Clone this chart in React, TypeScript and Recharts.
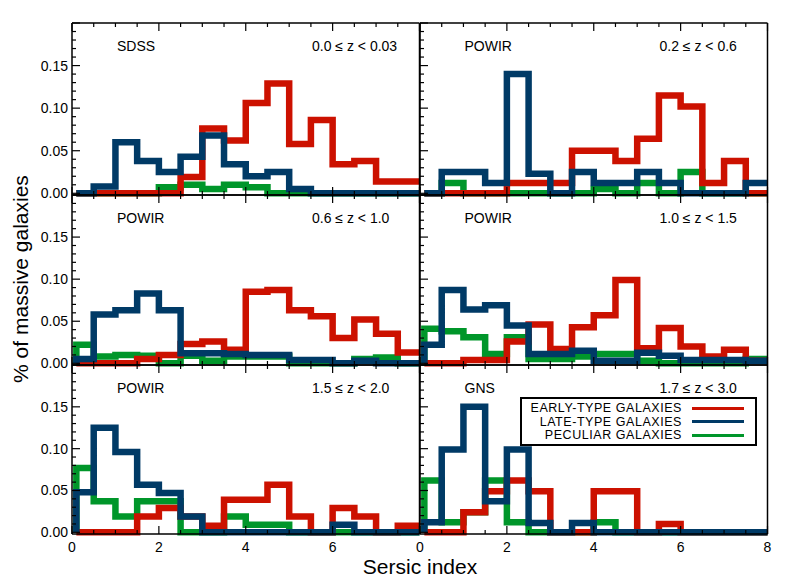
import React from 'react';
import { LineChart, Line, XAxis, YAxis } from 'recharts';

// histogram bins of the Sersic index (left edge of each bin), last edge at 8
const binStarts = [0.1, 0.5, 1, 1.5, 2, 2.5, 3, 3.5, 4, 4.5, 5, 5.5, 6, 6.5, 7, 7.5];
const binEnd = 8;

// SDSS 0.0 <= z < 0.03
const sdssEarly = [0, 0, 0, 0, 0, 0.019, 0.076, 0.062, 0.106, 0.129, 0.058, 0.086, 0.034, 0.038, 0.014, 0.014];
const sdssLate = [0, 0.008, 0.06, 0.038, 0.025, 0.043, 0.068, 0.034, 0.02, 0.025, 0.005, 0, 0, 0, 0, 0];
const sdssPec = [0, 0, 0, 0, 0.007, 0.01, 0.005, 0.01, 0.007, 0, 0, 0, 0, 0, 0, 0];

// POWIR 0.2 <= z < 0.6
const powir1Early = [0, 0, 0, 0, 0.012, 0.012, 0.012, 0.05, 0.05, 0.038, 0.064, 0.115, 0.102, 0.012, 0.038, 0];
const powir1Late = [0, 0.025, 0.025, 0.012, 0.14, 0.023, 0, 0.025, 0.012, 0.012, 0.025, 0.012, 0, 0, 0, 0.012];
const powir1Pec = [0, 0.012, 0, 0, 0, 0, 0, 0, 0.005, 0, 0.012, 0, 0.025, 0, 0, 0];

// POWIR 0.6 <= z < 1.0
const powir2Early = [0, 0, 0, 0.005, 0.01, 0.023, 0.026, 0.016, 0.085, 0.087, 0.063, 0.056, 0.03, 0.052, 0.035, 0.013];
const powir2Late = [0.005, 0.058, 0.063, 0.083, 0.063, 0.012, 0.012, 0.011, 0.01, 0.01, 0.004, 0.004, 0, 0.003, 0, 0];
const powir2Pec = [0.022, 0.008, 0.01, 0.009, 0, 0.009, 0.003, 0.008, 0.008, 0.008, 0, 0, 0, 0.005, 0.007, 0];

// POWIR 1.0 <= z < 1.5
const powir3Early = [0, 0, 0.004, 0.004, 0.026, 0.046, 0.017, 0.043, 0.057, 0.099, 0.018, 0.042, 0.02, 0.008, 0.016, 0.003];
const powir3Late = [0.022, 0.087, 0.064, 0.069, 0.045, 0.011, 0.011, 0.015, 0.003, 0.003, 0.0125, 0.009, 0.004, 0.004, 0.004, 0.003];
const powir3Pec = [0.041, 0.038, 0.031, 0.011, 0.031, 0.005, 0.005, 0.008, 0.011, 0.011, 0.003, 0, 0, 0, 0, 0.005];

// POWIR 1.5 <= z < 2.0
const powir4Early = [0, 0, 0, 0.019, 0.029, 0.019, 0.008, 0.039, 0.039, 0.057, 0.019, 0, 0.029, 0.019, 0, 0.008];
const powir4Late = [0.048, 0.125, 0.096, 0.057, 0.047, 0.019, 0, 0, 0, 0, 0, 0, 0.009, 0, 0, 0];
const powir4Pec = [0.077, 0.037, 0.019, 0.037, 0.037, 0, 0, 0.019, 0.009, 0.009, 0, 0, 0, 0, 0, 0];

// GNS 1.7 <= z < 3.0
const gnsEarly = [0, 0, 0.024, 0.049, 0.062, 0.049, 0, 0, 0.049, 0.049, 0, 0.01, 0, 0, 0, 0];
const gnsLate = [0.012, 0.099, 0.15, 0.037, 0.099, 0.011, 0, 0.011, 0, 0, 0, 0, 0, 0, 0, 0];
const gnsPec = [0.062, 0.012, 0.024, 0.062, 0.012, 0, 0, 0, 0.012, 0, 0, 0, 0, 0, 0, 0];

const xTicks = [0, 0.5, 1, 1.5, 2, 2.5, 3, 3.5, 4, 4.5, 5, 5.5, 6, 6.5, 7, 7.5, 8];
const yTicks = [0, 0.01, 0.02, 0.03, 0.04, 0.05, 0.06, 0.07, 0.08, 0.09, 0.1, 0.11, 0.12, 0.13, 0.14, 0.15, 0.16, 0.17, 0.18, 0.19, 0.2];

const RED = '#cc1100';
const BLUE = '#003a66';
const GREEN = '#00962a';
const FONT = '"Liberation Sans", Arial, Helvetica, sans-serif';

const panels = [
  { survey: 'SDSS', zRange: '0.0 ≤ z < 0.03', early: sdssEarly, late: sdssLate, pec: sdssPec },
  { survey: 'POWIR', zRange: '0.2 ≤ z < 0.6', early: powir1Early, late: powir1Late, pec: powir1Pec },
  { survey: 'POWIR', zRange: '0.6 ≤ z < 1.0', early: powir2Early, late: powir2Late, pec: powir2Pec },
  { survey: 'POWIR', zRange: '1.0 ≤ z < 1.5', early: powir3Early, late: powir3Late, pec: powir3Pec },
  { survey: 'POWIR', zRange: '1.5 ≤ z < 2.0', early: powir4Early, late: powir4Late, pec: powir4Pec },
  { survey: 'GNS', zRange: '1.7 ≤ z < 3.0', early: gnsEarly, late: gnsLate, pec: gnsPec },
];

const legendItems = [
  { label: 'EARLY-TYPE GALAXIES', color: RED },
  { label: 'LATE-TYPE GALAXIES', color: BLUE },
  { label: 'PECULIAR GALAXIES', color: GREEN },
];

function buildRows(early: number[], late: number[], pec: number[]) {
  const rows = [{ x: binStarts[0], early: 0, late: 0, pec: 0 }];
  binStarts.forEach((s, i) => rows.push({ x: s, early: early[i], late: late[i], pec: pec[i] }));
  const n = binStarts.length - 1;
  rows.push({ x: binEnd, early: early[n], late: late[n], pec: pec[n] });
  return rows;
}

// layout of the 2x3 grid
const colLefts = [72, 419.5];
const rowTops = [23, 195, 365];
const rowHeights = [172, 170, 169];
const PLOT_W = 347.5;
const ML = 60, MR = 12, MT = 12, MB = 30;

const isMajorX = (v: number) => Math.abs(v / 2 - Math.round(v / 2)) < 1e-6;
const isMajorY = (v: number) => Math.abs(v * 20 - Math.round(v * 20)) < 1e-6;

function makeXTick(side: 'top' | 'bottom', showLabels: boolean, showLast: boolean) {
  return (props: any) => {
    const { x, y, payload } = props;
    const v = payload.value;
    const major = isMajorX(v);
    const len = major ? 8 : 4;
    const dir = side === 'bottom' ? -1 : 1;
    const label = showLabels && major && (showLast || v < 7.9);
    return (
      <g>
        <line x1={x} y1={y} x2={x} y2={y + dir * len} stroke="#000" strokeWidth={1.2} />
        {label && (
          <text x={x} y={y + 18} textAnchor="middle" fontSize={14} fontFamily={FONT} fill="#000">
            {v}
          </text>
        )}
      </g>
    );
  };
}

function makeYTick(side: 'left' | 'right', showLabels: boolean) {
  return (props: any) => {
    const { x, y, payload } = props;
    const v = payload.value;
    const major = isMajorY(v);
    const len = major ? 8 : 4;
    const dir = side === 'left' ? 1 : -1;
    const label = showLabels && major && v < 0.19;
    return (
      <g>
        <line x1={x} y1={y} x2={x + dir * len} y2={y} stroke="#000" strokeWidth={1.2} />
        {label && (
          <text x={x - 4} y={y + 5} textAnchor="end" fontSize={14} fontFamily={FONT} fill="#000">
            {v.toFixed(2)}
          </text>
        )}
      </g>
    );
  };
}

function Panel({ idx }: { idx: number }) {
  const p = panels[idx];
  const col = idx % 2;
  const row = Math.floor(idx / 2);
  const left = colLefts[col];
  const top = rowTops[row];
  const h = rowHeights[row];
  const rows = buildRows(p.early, p.late, p.pec);
  const axisLine = { stroke: '#000', strokeWidth: 1.5 };
  const yDomain = [-0.002, 0.2];
  const lineProps = {
    xAxisId: 'b',
    yAxisId: 'l',
    type: 'stepAfter' as const,
    strokeWidth: 6.5,
    dot: false,
    activeDot: false,
    isAnimationActive: false,
    strokeLinejoin: 'miter' as const,
  };
  // each axis takes 1px (an axis of size 0 is not drawn), so the chart grows by 2px each way
  return (
    <>
      <div style={{ position: 'absolute', left: left - ML - 1, top: top - MT - 1 }}>
        <LineChart
          width={PLOT_W + ML + MR + 2}
          height={h + MT + MB + 2}
          data={rows}
          margin={{ top: MT, right: MR, bottom: MB, left: ML }}
        >
          <XAxis xAxisId="b" dataKey="x" type="number" domain={[0, 8]} ticks={xTicks} interval={0}
            orientation="bottom" height={1} tickSize={0} tickMargin={0} axisLine={axisLine} tickLine={false}
            tick={makeXTick('bottom', row === 2, col === 1)} />
          <XAxis xAxisId="t" dataKey="x" type="number" domain={[0, 8]} ticks={xTicks} interval={0}
            orientation="top" height={1} tickSize={0} tickMargin={0} axisLine={axisLine} tickLine={false}
            tick={makeXTick('top', false, false)} />
          <YAxis yAxisId="l" type="number" domain={yDomain} ticks={yTicks} interval={0}
            orientation="left" width={1} tickSize={0} tickMargin={0} axisLine={axisLine} tickLine={false}
            tick={makeYTick('left', col === 0)} />
          <YAxis yAxisId="r" type="number" domain={yDomain} ticks={yTicks} interval={0}
            orientation="right" width={1} tickSize={0} tickMargin={0} axisLine={axisLine} tickLine={false}
            tick={makeYTick('right', false)} />
          <Line {...lineProps} dataKey="pec" stroke={GREEN} />
          <Line {...lineProps} dataKey="early" stroke={RED} />
          <Line {...lineProps} dataKey="late" stroke={BLUE} />
        </LineChart>
      </div>
      <div style={{ position: 'absolute', left: left + 45, top: top + 15, fontSize: 14, lineHeight: '16px', whiteSpace: 'nowrap' }}>
        {p.survey}
      </div>
      <div style={{ position: 'absolute', left: left + 240, top: top + 15, fontSize: 14, lineHeight: '16px', whiteSpace: 'nowrap' }}>
        {p.zRange}
      </div>
    </>
  );
}

function LegendBox() {
  return (
    <div style={{ position: 'absolute', left: 520, top: 397, width: 233, height: 45, border: '2px solid #000', background: '#fff' }}>
      {legendItems.map((it, i) => (
        <React.Fragment key={it.label}>
          <div style={{ position: 'absolute', right: 73, top: 3 + i * 13.5, textAlign: 'right', fontSize: 12.5, letterSpacing: 0.55, lineHeight: '12px', whiteSpace: 'nowrap' }}>
            {it.label}
          </div>
          <div style={{ position: 'absolute', left: 170, width: 52, top: 7.5 + i * 13.5, height: 3, background: it.color }} />
        </React.Fragment>
      ))}
    </div>
  );
}

export default function App() {
  return (
    <div style={{ position: 'absolute', left: 0, top: 0, width: 789, height: 581, background: '#fff', fontFamily: FONT, color: '#000', overflow: 'hidden' }}>
      {panels.map((_, i) => (
        <Panel key={i} idx={i} />
      ))}
      <LegendBox />
      <div style={{ position: 'absolute', left: 0, width: 840, top: 559, textAlign: 'center', fontSize: 21, lineHeight: '16px' }}>
        Sersic index
      </div>
      <div style={{ position: 'absolute', left: 21, top: 279, width: 0, height: 0 }}>
        <div style={{ position: 'absolute', left: -150, top: -12, width: 300, textAlign: 'center', fontSize: 21, lineHeight: '24px', transform: 'rotate(-90deg)', whiteSpace: 'nowrap' }}>
          % of massive galaxies
        </div>
      </div>
    </div>
  );
}
